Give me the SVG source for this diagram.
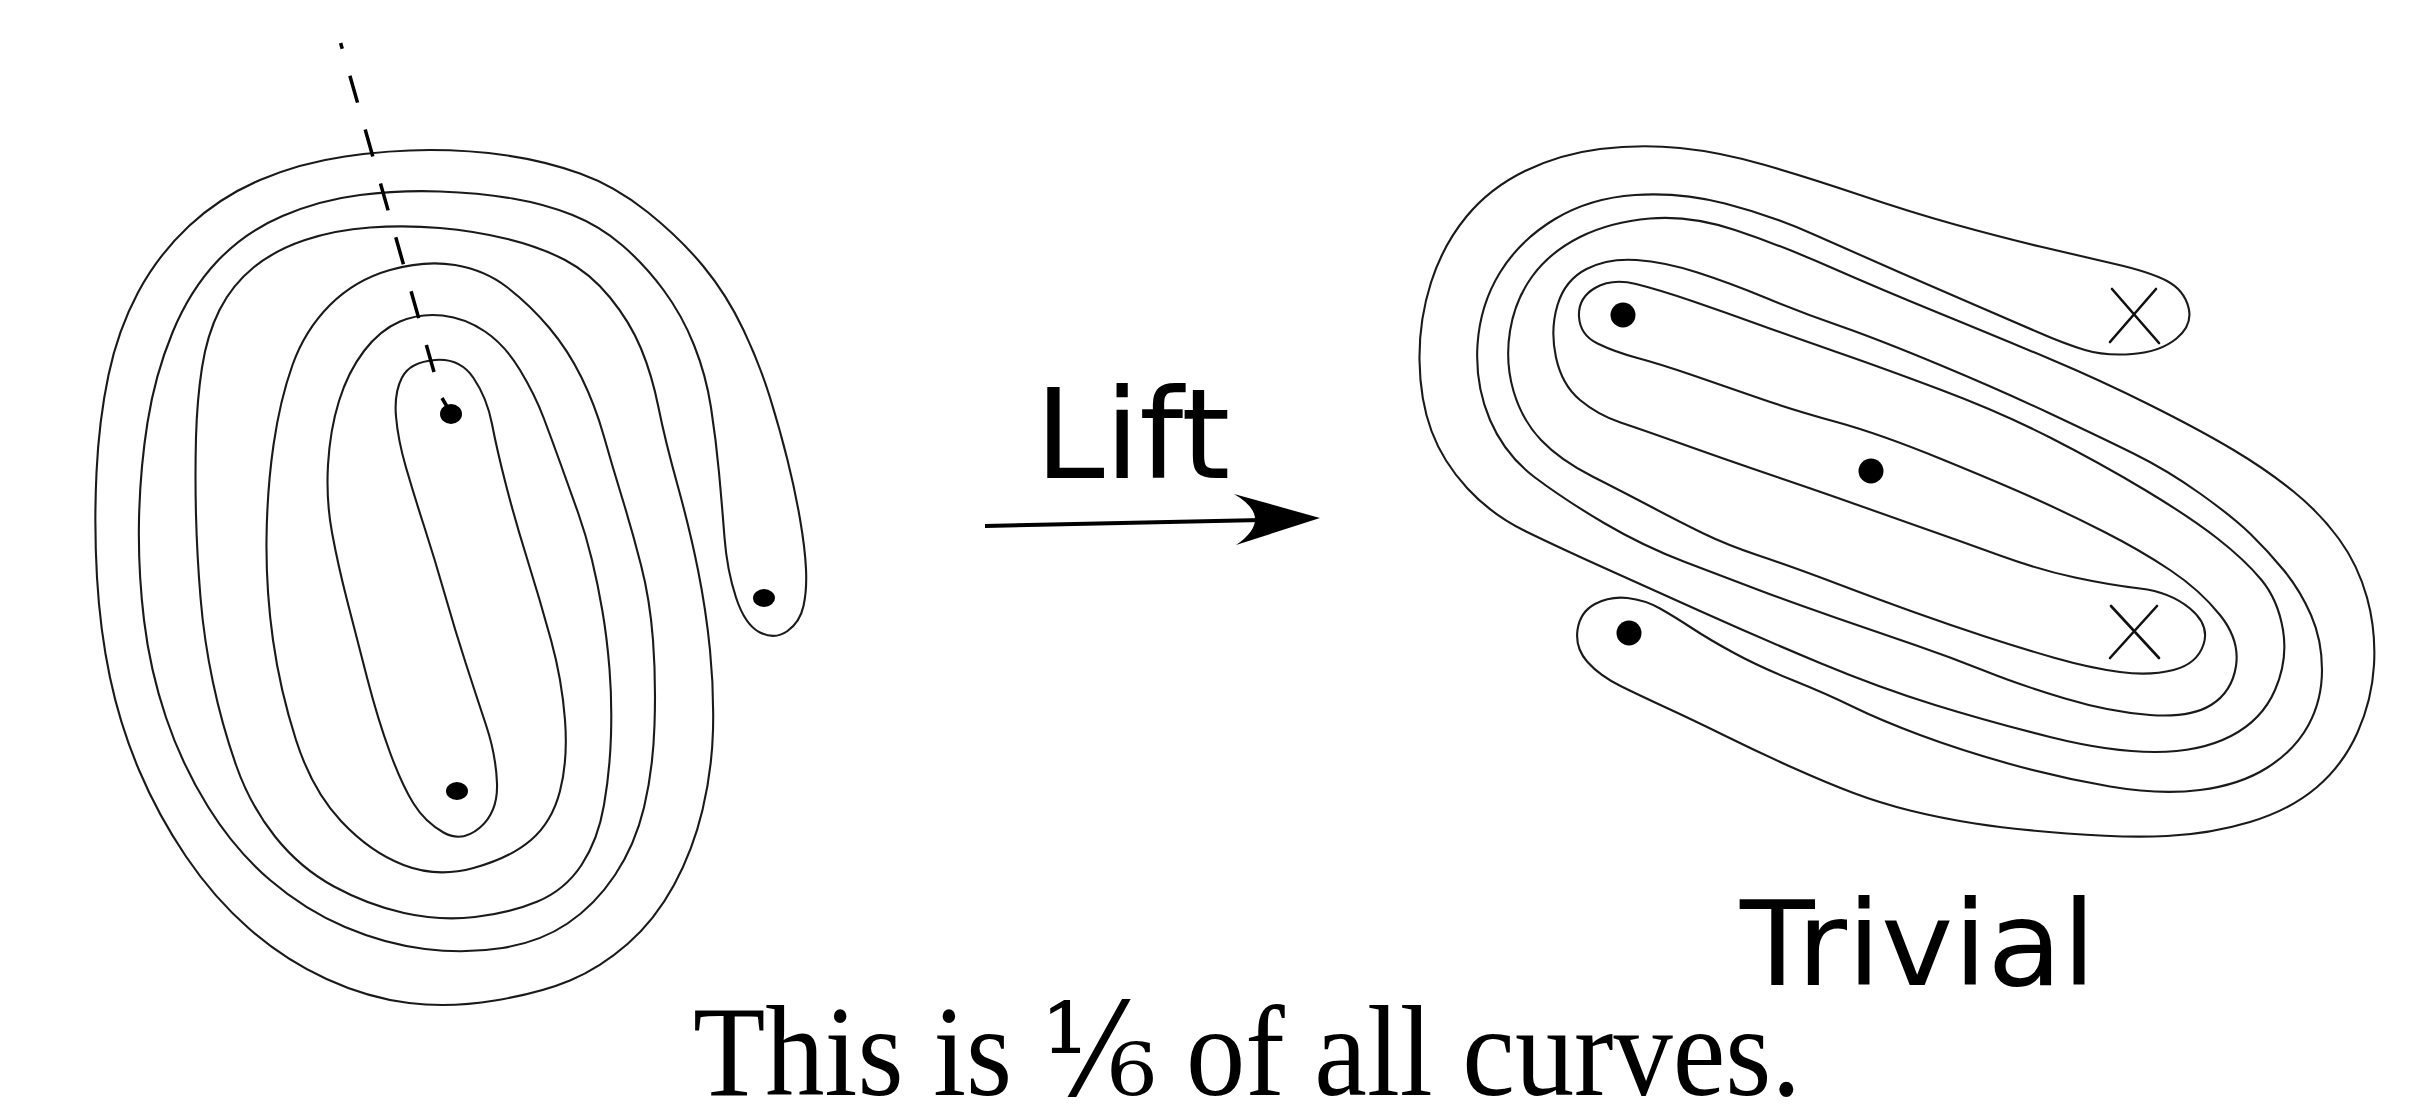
<svg xmlns="http://www.w3.org/2000/svg" width="2414" height="1116" viewBox="0 0 2414 1116">
<style>
.c{fill:none;stroke:#1a1a1a;stroke-width:2.1;stroke-linejoin:round}
.d{fill:#000}
.x{stroke:#111;stroke-width:2.6;stroke-linecap:round}
.sans{font-family:"DejaVu Sans","Liberation Sans",sans-serif;fill:#000}
.serif{font-family:"Liberation Serif","DejaVu Serif",serif;fill:#000}
</style>
<rect width="2414" height="1116" fill="#fff"/>
<g id="spiral">
<path class="c" d="M803.5,606 Q807,590 806,569 Q805,548 800,519 Q795,490 787.5,460 Q780,430 770,397.5 Q760,365 743.5,330 Q727,295 703.5,266.5 Q680,238 647.5,212 Q615,186 580,173.5 Q545,161 507.5,155.5 Q470,150 430,150 Q390,150 345,156.5 Q300,163 260,180 Q220,197 189,226 Q158,255 138,292.5 Q118,330 108.5,375 Q99,420 96.5,472.5 Q94,525 97,577.5 Q100,630 110,677.5 Q120,725 139,770 Q158,815 186,856.5 Q214,898 249.5,929 Q285,960 326.5,979 Q368,998 409,1003 Q450,1008 495,1000.5 Q540,993 570,980.5 Q600,968 627.5,944 Q655,920 674,885 Q693,850 702.5,810 Q712,770 713,730 Q714,690 710,650 Q706,610 698,570 Q690,530 677.5,485 Q665,440 658.5,407.5 Q652,375 641,348.5 Q630,322 610,297.5 Q590,273 565,260 Q540,247 507.5,239 Q475,231 440,228 Q405,225 370,227.5 Q335,230 305,240 Q275,250 253.5,267.5 Q232,285 219.5,310 Q207,335 202,367.5 Q197,400 196,437.5 Q195,475 196,515 Q197,555 200.5,597.5 Q204,640 213,682.5 Q222,725 236,765 Q250,805 275,836.5 Q300,868 334,886.5 Q368,905 404,913 Q440,921 475,917 Q510,913 537.5,901.5 Q565,890 581.5,865 Q598,840 604,805 Q610,770 611,735 Q612,700 609.5,669 Q607,638 602.5,611.5 Q598,585 592,560 Q586,535 578,512.5 Q570,490 561,465 Q552,440 543.5,417.5 Q535,395 520,370 Q505,345 485,331.5 Q465,318 442.5,315.5 Q420,313 400,321.5 Q380,330 364,351 Q348,372 339,401 Q330,430 328,465 Q326,500 332,532.5 Q338,565 347,600 Q356,635 367,677.5 Q378,720 390,752.5 Q402,785 413.5,803.5 Q425,822 443.5,832.5 Q462,843 480,827.5 Q498,812 497,783.5 Q496,755 486,725 Q476,695 465.5,662.5 Q455,630 445,595 Q435,560 424.5,527.5 Q414,495 406,467.5 Q398,440 396,416.5 Q394,393 402,377.5 Q410,362 435,360 Q460,358 473.5,378 Q487,398 492,424 Q497,450 506,485 Q515,520 527.5,560 Q540,600 551,640 Q562,680 565,720 Q568,760 560,791 Q552,822 531,840 Q510,858 473.5,868 Q437,878 403.5,865 Q370,852 341,821 Q312,790 296,740 Q280,690 273,640 Q266,590 266.5,540 Q267,490 273.5,445 Q280,400 292.5,365 Q305,330 330,305 Q355,280 390,270 Q425,260 455,265 Q485,270 507.5,287.5 Q530,305 549,327.5 Q568,350 581.5,377.5 Q595,405 603.5,435 Q612,465 622,497.5 Q632,530 641,565 Q650,600 653,640 Q656,680 654.5,725 Q653,770 644,807.5 Q635,845 615,875 Q595,905 567.5,923.5 Q540,942 502.5,948 Q465,954 425,949 Q385,944 345,927 Q305,910 270,880 Q235,850 208.5,807.5 Q182,765 166,717.5 Q150,670 144,620 Q138,570 139,520 Q140,470 147.5,422.5 Q155,375 172.5,332.5 Q190,290 217.5,261 Q245,232 282.5,216 Q320,200 360,195 Q400,190 440,191.5 Q480,193 512.5,198.5 Q545,204 572.5,215 Q600,226 622.5,245.5 Q645,265 663.5,290 Q682,315 694,345 Q706,375 711,407.5 Q716,440 719,472.5 Q722,505 724.5,537.5 Q727,570 736,597.5 Q745,625 760,632.5 Q775,640 787.5,631 Q800,622 803.5,606 Z"/>
<line x1="434" y1="372" x2="340.6" y2="43" stroke="#000" stroke-width="3.5" stroke-dasharray="28 28"/>
<line x1="442" y1="398" x2="449" y2="410" stroke="#000" stroke-width="3.5"/>
<ellipse class="d" cx="764" cy="598" rx="11" ry="9"/>
<ellipse class="d" cx="451" cy="414" rx="11" ry="10"/>
<ellipse class="d" cx="457" cy="791" rx="11" ry="9"/>
</g>
<g id="arrow">
<line x1="985" y1="526" x2="1262" y2="520" stroke="#000" stroke-width="4"/>
<path d="M1320,518 L1234,494 Q1275,518 1236,545 Z" fill="#000"/>
<text class="sans" x="1035" y="478" font-size="125">Lift</text>
</g>
<g id="lift">
<path class="c" d="M2085,350 Q2105,356 2132.5,354 Q2160,352 2176.5,338.5 Q2193,325 2188.5,307.5 Q2184,290 2167,281 Q2150,272 2115,264 Q2080,256 2040,246.5 Q2000,237 1955,224.5 Q1910,212 1860,195 Q1810,178 1765,165 Q1720,152 1680,148 Q1640,144 1600,149 Q1560,154 1525,171 Q1490,188 1466.5,216.5 Q1443,245 1431,282.5 Q1419,320 1419.5,360 Q1420,400 1431.5,431 Q1443,462 1467.5,488.5 Q1492,515 1526,531.5 Q1560,548 1600,566 Q1640,584 1700,611 Q1760,638 1820,663 Q1880,688 1935,705 Q1990,722 2050,737 Q2110,752 2155,752 Q2200,752 2231,736 Q2262,720 2275,690 Q2288,660 2283,630 Q2278,600 2261.5,580 Q2245,560 2217.5,538.5 Q2190,517 2145,490 Q2100,463 2050,437.5 Q2000,412 1940,389.5 Q1880,367 1836.5,352 Q1793,337 1760,325 Q1727,313 1693.5,301.5 Q1660,290 1636,284 Q1612,278 1595,288 Q1578,298 1579,316.5 Q1580,335 1597.5,343.5 Q1615,352 1637.5,358 Q1660,364 1693.5,375.5 Q1727,387 1760,398.5 Q1793,410 1836.5,422 Q1880,434 1940,458.5 Q2000,483 2033.5,498 Q2067,513 2103.5,531.5 Q2140,550 2170,570 Q2200,590 2220,615 Q2240,640 2236,666 Q2232,692 2211,705 Q2190,718 2150,715 Q2110,712 2065,698.5 Q2020,685 1985,671 Q1950,657 1915,645 Q1880,633 1836.5,618 Q1793,603 1760,590.5 Q1727,578 1685,562 Q1643,546 1604,523 Q1565,500 1535,477.5 Q1505,455 1490,420 Q1475,385 1477.5,345 Q1480,305 1500,272.5 Q1520,240 1555,219 Q1590,198 1635,195 Q1680,192 1725,203.5 Q1770,215 1815,235 Q1860,255 1900,272.5 Q1940,290 1975,305 Q2010,320 2037.5,332 Q2065,344 2085,350 Z"/>
<path class="c" d="M2250.5,534 Q2233,517 2200,493.5 Q2167,470 2133.5,453.5 Q2100,437 2050,413.5 Q2000,390 1940,365 Q1880,340 1840,326 Q1800,312 1765,297.5 Q1730,283 1697.5,272.5 Q1665,262 1636.5,260 Q1608,258 1586.5,269 Q1565,280 1557.5,305 Q1550,330 1556,357.5 Q1562,385 1580,400 Q1598,415 1620.5,422.5 Q1643,430 1685,445 Q1727,460 1777,477 Q1827,494 1853.5,503.5 Q1880,513 1920,527 Q1960,541 2000,555.5 Q2040,570 2075,577.5 Q2110,585 2140,588.5 Q2170,592 2190,608.5 Q2210,625 2203.5,644.5 Q2197,664 2173.5,670 Q2150,676 2120,672 Q2090,668 2055,658 Q2020,648 1985,636.5 Q1950,625 1915,612.5 Q1880,600 1836.5,583.5 Q1793,567 1760,556 Q1727,545 1703.5,533.5 Q1680,522 1652.5,507.5 Q1625,493 1592.5,476.5 Q1560,460 1541,440 Q1522,420 1513.5,391 Q1505,362 1510,331 Q1515,300 1532.5,276 Q1550,252 1580,237 Q1610,222 1650,218.5 Q1690,215 1735,230 Q1780,245 1830,267 Q1880,289 1940,313.5 Q2000,338 2050,359 Q2100,380 2150,405 Q2200,430 2233.5,450 Q2267,470 2293.5,491.5 Q2320,513 2339,539 Q2358,565 2367,597.5 Q2376,630 2374,665 Q2372,700 2357.5,732.5 Q2343,765 2316.5,787.5 Q2290,810 2250,822 Q2210,834 2167,836 Q2124,838 2067,833.5 Q2010,829 1975,823.5 Q1940,818 1910,810.5 Q1880,803 1853.5,793 Q1827,783 1793.5,768 Q1760,753 1726.5,736.5 Q1693,720 1668,708.5 Q1643,697 1621.5,686.5 Q1600,676 1587.5,662 Q1575,648 1577.5,630 Q1580,612 1595,604 Q1610,596 1627.5,598 Q1645,600 1660,608.5 Q1675,617 1692.5,628.5 Q1710,640 1735,653.5 Q1760,667 1793.5,680.5 Q1827,694 1853.5,707 Q1880,720 1920,735 Q1960,750 2010,764 Q2060,778 2110,786.5 Q2160,795 2200,790 Q2240,785 2267.5,767.5 Q2295,750 2308.5,725 Q2322,700 2322,670 Q2322,640 2311,615 Q2300,590 2284,570.5 Q2268,551 2250.5,534 Z"/>
<circle class="d" cx="1623" cy="315" r="12.5"/>
<circle class="d" cx="1871" cy="471" r="12.5"/>
<circle class="d" cx="1629" cy="633" r="12.5"/>
<line class="x" x1="2112" y1="289" x2="2159" y2="343"/>
<line class="x" x1="2156" y1="289" x2="2110" y2="342"/>
<line class="x" x1="2111" y1="606" x2="2159" y2="658"/>
<line class="x" x1="2157" y1="606" x2="2110" y2="658"/>
<text class="sans" x="1740" y="985" font-size="117" textLength="356" lengthAdjust="spacingAndGlyphs">Trivial</text>
</g>
<text class="serif" x="693" y="1095" font-size="130" textLength="1108" lengthAdjust="spacingAndGlyphs">This is ⅙ of all curves.</text>
</svg>
